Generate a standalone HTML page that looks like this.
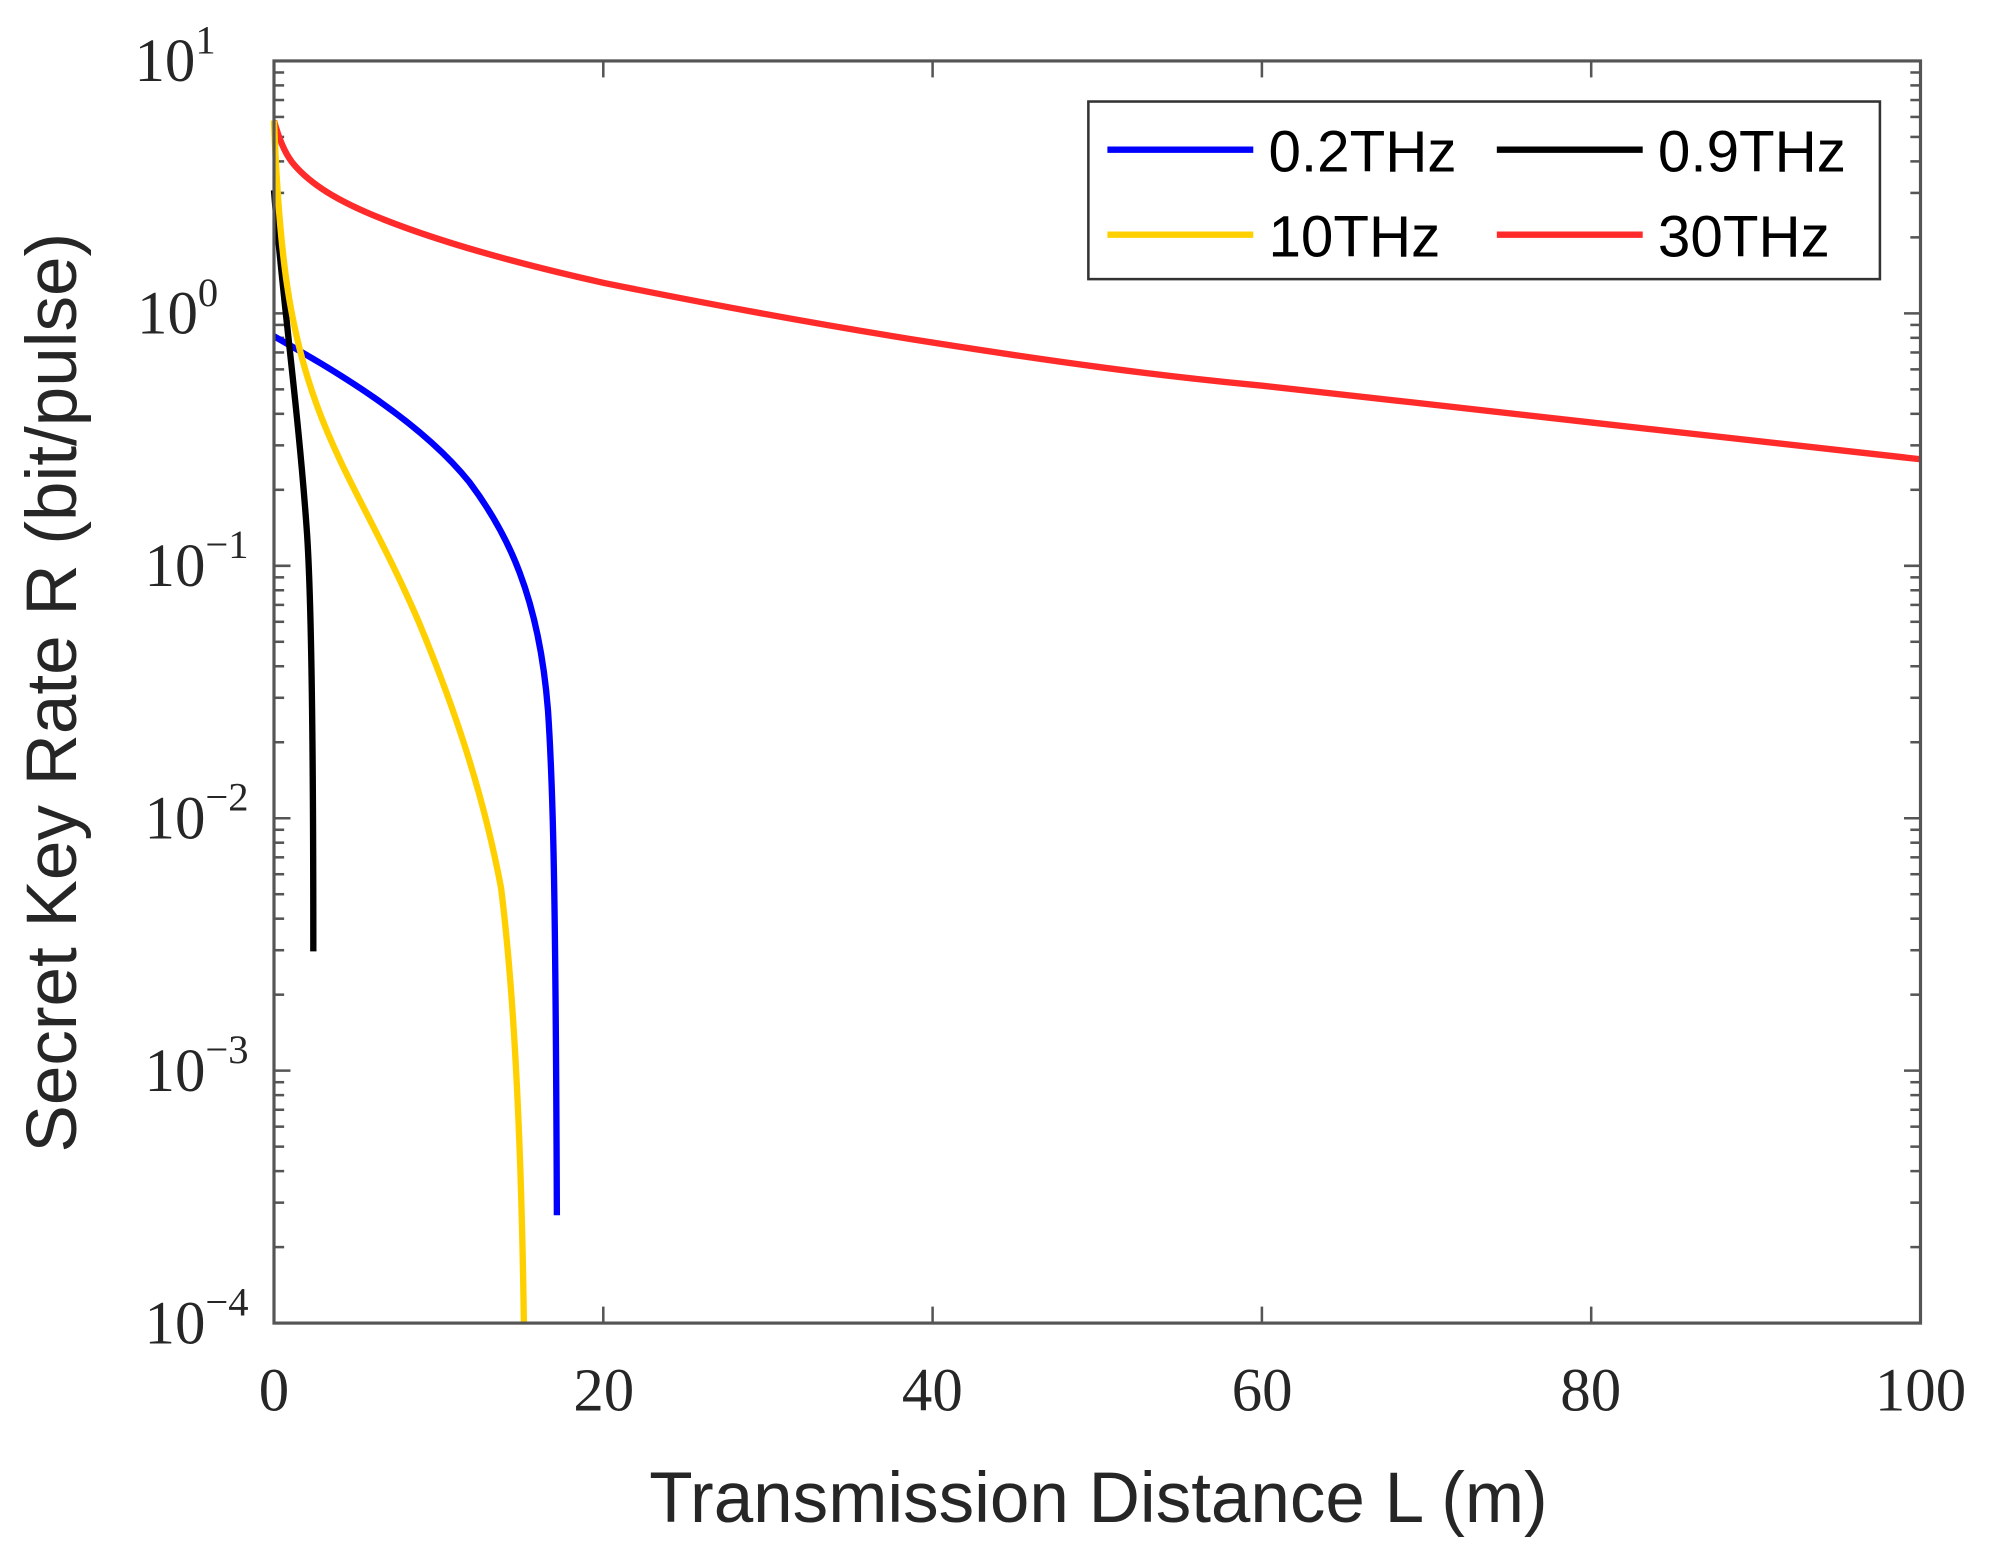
<!DOCTYPE html>
<html><head><meta charset="utf-8"><style>
html,body{margin:0;padding:0;background:#fff;}
svg{display:block;}
.tk{font-family:"Liberation Serif",serif;font-size:48px;fill:#262626;}
.sup{font-size:32px;}
.lab{font-family:"Liberation Sans",sans-serif;font-size:56px;fill:#262626;}
.leg{font-family:"Liberation Sans",sans-serif;font-size:46px;fill:#000;}
</style></head><body>
<svg id="s" width="1989" height="1554" viewBox="0 0 1568 1225" xmlns="http://www.w3.org/2000/svg">
<rect width="1568" height="1225" fill="#fff"/>
<g id="ticks" stroke="#555" stroke-width="2"></g>
<g fill="none" stroke-width="5" stroke-linejoin="round">
<path stroke="#ff2a2a" d="M216,95 C220,110 225,122 232,130 C245,145 265,158 300,172 C340,188 400,206 476,223 C560,240 640,255 735,270 C830,285 910,296 995,304 C1080,313 1170,324 1254,333 C1340,343 1430,352 1514,362"/>
<path stroke="#0000ff" d="M216,265 C260,290 330,330 370,380 C400,420 425,470 432,560 C436,620 438,700 439,958"/>
<path stroke="#000" d="M216,150 C222,230 235,320 242,420 C246,480 247,600 247,750"/>
<path stroke="#ffd000" d="M216,95 C220,200 228,260 250,320 C270,375 300,420 330,490 C355,550 380,620 395,700 C405,780 411,900 413,1043"/>
</g>
<rect x="216" y="48" width="1298" height="995" fill="none" stroke="#555" stroke-width="2.5"/>
<g class="tk" text-anchor="end">
<text x="170" y="64">10<tspan class="sup" dy="-22">1</tspan></text>
<text x="172" y="263">10<tspan class="sup" dy="-22">0</tspan></text>
<text x="196" y="462">10<tspan class="sup" dy="-22">−1</tspan></text>
<text x="196" y="661">10<tspan class="sup" dy="-22">−2</tspan></text>
<text x="196" y="860">10<tspan class="sup" dy="-22">−3</tspan></text>
<text x="196" y="1059">10<tspan class="sup" dy="-22">−4</tspan></text>
</g>
<g class="tk" text-anchor="middle">
<text x="216" y="1112">0</text><text x="476" y="1112">20</text><text x="735" y="1112">40</text>
<text x="995" y="1112">60</text><text x="1254" y="1112">80</text><text x="1514" y="1112">100</text>
</g>
<text class="lab" x="866" y="1200" text-anchor="middle">Transmission Distance L (m)</text>
<text class="lab" transform="translate(60,546) rotate(-90)" text-anchor="middle">Secret Key Rate R (bit/pulse)</text>
<rect x="858" y="80" width="624" height="140" fill="#fff" stroke="#333" stroke-width="2"/>
<g stroke-width="5">
<line x1="873" y1="118" x2="988" y2="118" stroke="#0000ff"/>
<line x1="1180" y1="118" x2="1295" y2="118" stroke="#000"/>
<line x1="873" y1="185" x2="988" y2="185" stroke="#ffd000"/>
<line x1="1180" y1="185" x2="1295" y2="185" stroke="#ff2a2a"/>
</g>
<g class="leg">
<text x="1000" y="135">0.2THz</text><text x="1307" y="135">0.9THz</text>
<text x="1000" y="202">10THz</text><text x="1307" y="202">30THz</text>
</g>
</svg>
<script>
(function(){
var g=document.getElementById('ticks'),ns='http://www.w3.org/2000/svg';
function L(x1,y1,x2,y2){var l=document.createElementNS(ns,'line');l.setAttribute('x1',x1);l.setAttribute('y1',y1);l.setAttribute('x2',x2);l.setAttribute('y2',y2);g.appendChild(l);}
var yt=48,yb=1043,xl=216,xr=1514,dec=199;
for(var d=0;d<5;d++){var y0=yb-d*dec;
 for(var m=1;m<10;m++){var y=y0-Math.log10(m)*dec;var len=(m==1)?13:8;
  L(xl,y,xl+len,y);L(xr,y,xr-len,y);}}
L(xl,yt,xl+13,yt);L(xr,yt,xr-13,yt);
for(var i=0;i<=5;i++){var x=xl+i*(xr-xl)/5;L(x,yb,x,yb-13);L(x,yt,x,yt+13);}
})();
</script>
</body></html>
